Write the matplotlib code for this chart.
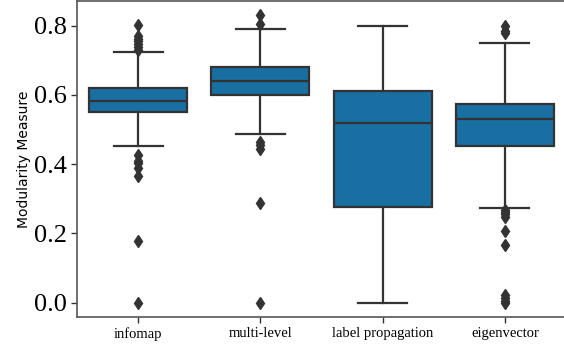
import matplotlib
matplotlib.use("Agg")
import matplotlib.pyplot as plt

categories = ["infomap", "multi-level", "label propagation", "eigenvector"]
q1 = [0.550, 0.601, 0.277, 0.453]
medians = [0.583, 0.641, 0.520, 0.529]
q3 = [0.621, 0.680, 0.610, 0.573]
whisker_low = [0.452, 0.488, 0.000, 0.273]
whisker_high = [0.724, 0.791, 0.798, 0.750]
fliers = [
    [0.802, 0.771, 0.762, 0.755, 0.747, 0.738, 0.730, 0.426, 0.410, 0.402, 0.388, 0.366, 0.179, 0.0],
    [0.830, 0.805, 0.465, 0.455, 0.445, 0.289, 0.0],
    [],
    [0.800, 0.785, 0.779, 0.268, 0.263, 0.255, 0.248, 0.207, 0.167, 0.023, 0.012, 0.004, 0.0],
]
yticks = [0.0, 0.2, 0.4, 0.6, 0.8]

fig = plt.figure(figsize=(5.64, 3.47), dpi=100)
ax = fig.add_axes([0.1365, 0.0865, 0.867, 0.911])

stats = []
for i, c in enumerate(categories):
    stats.append(dict(label=c, med=medians[i], q1=q1[i], q3=q3[i],
                      whislo=whisker_low[i], whishi=whisker_high[i], fliers=fliers[i]))

line_col = "#333333"
fill_col = "#196ea2"
ax.bxp(stats, positions=range(len(categories)), widths=0.8, patch_artist=True,
       boxprops=dict(facecolor=fill_col, edgecolor=line_col, linewidth=1.6),
       medianprops=dict(color=line_col, linewidth=1.6),
       whiskerprops=dict(color=line_col, linewidth=1.6),
       capprops=dict(color=line_col, linewidth=1.6),
       flierprops=dict(marker="d", markerfacecolor=line_col, markeredgecolor=line_col, markersize=6))

ax.set_xlim(-0.5, len(categories) - 0.5)
ax.set_ylim(-0.0415, 0.8715)
ax.set_yticks(yticks)
ax.set_yticklabels([f"{v:.1f}" for v in yticks], family="Liberation Serif", fontsize=19)
ax.set_xticks(range(len(categories)))
ax.set_xticklabels(categories, family="Liberation Serif", fontsize=10.5)
ax.set_ylabel("Modularity Measure", family="DejaVu Sans", fontsize=10, labelpad=2)
for s in ax.spines.values():
    s.set_color("#555555")
    s.set_linewidth(1.2)
ax.tick_params(color="#333333", length=4, width=1)
fig.savefig("out.png", dpi=100)
